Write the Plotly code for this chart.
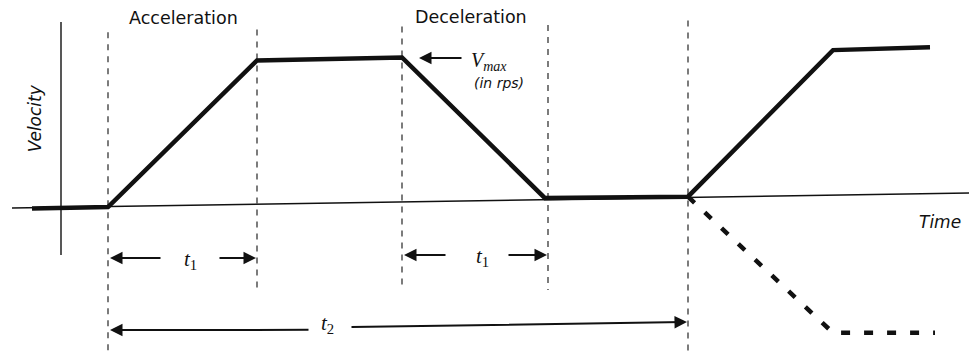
import plotly.graph_objects as go

# ---- data (time in arbitrary units, velocity normalised to Vmax) ----
profile_time = [-7.6, 0.0, 14.9, 29.4, 43.7, 58.0, 72.5, 82.2]
profile_velocity = [-0.01, 0.0, 0.99, 1.01, 0.06, 0.07, 1.06, 1.08]

reverse_time = [58.0, 72.5, 82.7]
reverse_velocity = [0.07, -0.85, -0.85]

time_axis_t = [-9.6, 86.9]
time_axis_v = [-0.007, 0.095]

velocity_axis_t = [-4.7, -4.7]
velocity_axis_v = [-0.324, 1.25]

guide_times = [0.0, 14.9, 29.4, 44.0, 58.0]
guide_top = [1.18, 1.20, 1.22, 1.23, 1.26]
guide_bottom = [-0.993, -0.56, -0.56, -0.56, -0.993]

phase_labels = ["Acceleration", "Deceleration"]
phase_label_t = [7.5, 36.3]
phase_label_v = [1.277, 1.284]

# dimension arrows: (tail_t, tail_v, head_t, head_v)
dimension_arrows = [
    (5.4, -0.345, 0.2, -0.345),     # t1 acceleration, left half
    (11.0, -0.345, 14.8, -0.345),   # t1 acceleration, right half
    (33.9, -0.324, 29.6, -0.324),   # t1 deceleration, left half
    (39.9, -0.324, 43.9, -0.324),   # t1 deceleration, right half
    (20.2, -0.830, 0.2, -0.831),    # t2, left half
    (24.2, -0.811, 57.9, -0.777),   # t2, right half
    (35.5, 1.007, 31.1, 1.007),     # Vmax pointer
]

INK = "#111111"
SANS = "DejaVu Sans"
SERIF = "Liberation Serif"

fig = go.Figure()

# axes drawn as lines
fig.add_trace(go.Scatter(x=time_axis_t, y=time_axis_v, mode="lines",
                         line=dict(color=INK, width=1.4), hoverinfo="skip"))
fig.add_trace(go.Scatter(x=velocity_axis_t, y=velocity_axis_v, mode="lines",
                         line=dict(color=INK, width=1.4), hoverinfo="skip"))

# vertical dashed guides
for t, top, bot in zip(guide_times, guide_top, guide_bottom):
    fig.add_trace(go.Scatter(x=[t, t], y=[top, bot], mode="lines",
                             line=dict(color=INK, width=1.1, dash="6px,6px"),
                             hoverinfo="skip"))

# velocity profile
fig.add_trace(go.Scatter(x=profile_time, y=profile_velocity, mode="lines",
                         line=dict(color=INK, width=4.5), hoverinfo="skip"))
# reverse direction (dashed)
fig.add_trace(go.Scatter(x=reverse_time, y=reverse_velocity, mode="lines",
                         line=dict(color=INK, width=4.5, dash="9px,14px"),
                         hoverinfo="skip"))

annotations = []

for tail_t, tail_v, head_t, head_v in dimension_arrows:
    annotations.append(dict(x=head_t, y=head_v, ax=tail_t, ay=tail_v,
                            xref="x", yref="y", axref="x", ayref="y",
                            text="", showarrow=True, arrowhead=2,
                            arrowsize=1.25, arrowwidth=2, arrowcolor=INK,
                            standoff=0, startstandoff=0))

def label(t, v, text, size, family, xanchor="center", angle=0):
    annotations.append(dict(x=t, y=v, xref="x", yref="y", text=text,
                            showarrow=False, xanchor=xanchor, yanchor="middle",
                            textangle=angle,
                            font=dict(family=family, size=size, color=INK)))

for name, t, v in zip(phase_labels, phase_label_t, phase_label_v):
    label(t, v, name, 17.5, SANS)

label(-7.3, 0.6, "<i>Velocity</i>", 17, SANS, angle=-90)
label(83.2, -0.10, "<i>Time</i>", 17, SANS)
label(36.1, 0.98, "<i>V</i><sub><i>max</i></sub>", 20, SERIF, xanchor="left")
label(36.4, 0.84, "<i>(in rps)</i>", 14, SANS, xanchor="left")
label(8.2, -0.36, "<i>t</i><sub>1</sub>", 21, SERIF)
label(37.4, -0.34, "<i>t</i><sub>1</sub>", 21, SERIF)
label(21.9, -0.79, "<i>t</i><sub>2</sub>", 21, SERIF)

# the page body adds an 8px margin, so the figure is 8px smaller and the
# axis ranges are set so that 1 time unit = 10px and 1 velocity unit = 148px
fig.update_layout(
    width=969, height=346,
    margin=dict(l=0, r=0, t=0, b=0),
    paper_bgcolor="white", plot_bgcolor="white",
    showlegend=False,
    xaxis=dict(range=[-10.0, 86.9], visible=False, fixedrange=True),
    yaxis=dict(range=[-0.9932, 1.3446], visible=False, fixedrange=True),
    annotations=annotations,
)

fig.write_html("out.html")
